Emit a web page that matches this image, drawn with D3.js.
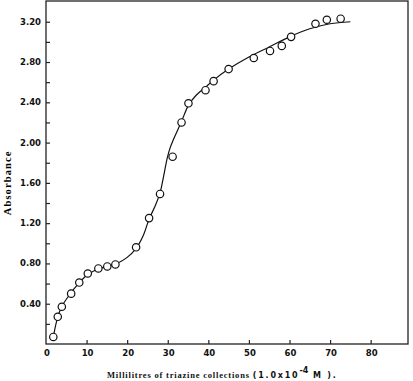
<!DOCTYPE html>
<html>
<head>
<meta charset="utf-8">
<script src="https://cdn.jsdelivr.net/npm/d3@7"></script>
<style>
  body { margin: 0; background: #fff; }
  svg { display: block; }
  .tick-label { font-family: "DejaVu Sans", sans-serif; font-weight: bold; font-size: 8.5px; fill: #111; }
</style>
</head>
<body>
<svg id="drawing_region"></svg>
<script>
// measured points (ml of triazine, absorbance)
const pointsX = [1.8, 2.9, 3.9, 6.2, 8.2, 10.3, 12.9, 15.1, 17.1, 22.2, 25.4, 28.1, 31.2, 33.4, 35.1, 39.3, 41.3, 45.0, 51.2, 55.2, 58.1, 60.4, 66.4, 69.2, 72.6];
const pointsY = [0.07, 0.27, 0.37, 0.50, 0.61, 0.70, 0.75, 0.77, 0.79, 0.96, 1.25, 1.49, 1.86, 2.20, 2.39, 2.52, 2.61, 2.73, 2.84, 2.91, 2.96, 3.05, 3.18, 3.22, 3.23];

// hand drawn fitted curve
const curveX = [1.8, 2.9, 4.0, 6.0, 8.0, 10.0, 12.5, 15.0, 17.5, 20.0, 22.2, 24.0, 25.4, 27.0, 28.1, 29.0, 29.9, 30.6, 31.4, 32.4, 33.4, 35.1, 37.0, 39.3, 41.3, 45.0, 50.0, 55.0, 60.0, 65.0, 70.0, 75.0];
const curveY = [0.07, 0.27, 0.38, 0.50, 0.60, 0.68, 0.74, 0.77, 0.80, 0.86, 0.95, 1.08, 1.24, 1.38, 1.50, 1.67, 1.85, 1.95, 2.03, 2.12, 2.21, 2.37, 2.47, 2.55, 2.62, 2.73, 2.85, 2.95, 3.05, 3.13, 3.18, 3.20];

const xTicks = [0, 10, 20, 30, 40, 50, 60, 70, 80];
const yTicks = [0.40, 0.80, 1.20, 1.60, 2.00, 2.40, 2.80, 3.20];
const yMinorTicks = [0.2, 0.4, 0.6, 0.8, 1.0, 1.2, 1.4, 1.6, 1.8, 2.0, 2.2, 2.4, 2.6, 2.8, 3.0, 3.2];

const width = 413, height = 381;
const margin = {top: 1, right: 5, bottom: 37, left: 46};

const svg = d3.select('#drawing_region')
    .attr('width', width)
    .attr('height', height);

const innerW = width - margin.left - margin.right;
const innerH = height - margin.top - margin.bottom;

const xscale = d3.scaleLinear()
    .domain([0, 89.2])
    .range([margin.left, margin.left + innerW]);

const yscale = d3.scaleLinear()
    .domain([0, 3.406])
    .range([margin.top + innerH, margin.top]);

// frame
svg.append('rect')
    .attr('x', margin.left)
    .attr('y', margin.top)
    .attr('width', innerW)
    .attr('height', innerH)
    .attr('fill', 'none')
    .attr('stroke', '#222')
    .attr('stroke-width', 1.3);

// x axis (ticks point inward)
const xaxis = d3.axisTop(xscale)
    .tickValues(xTicks.slice(1))
    .tickSize(4)
    .tickFormat('');
svg.append('g')
    .attr('transform', `translate(0, ${margin.top + innerH})`)
    .call(xaxis)
    .call(g => g.select('.domain').remove())
    .call(g => g.selectAll('line').attr('stroke', '#222').attr('stroke-width', 1.2));

svg.append('g')
    .selectAll('text')
    .data(xTicks)
    .join('text')
    .attr('class', 'tick-label')
    .attr('x', d => xscale(d) + 1)
    .attr('y', margin.top + innerH + 12)
    .attr('text-anchor', 'middle')
    .text(d => d);

// y axis (ticks point inward)
const yaxis = d3.axisRight(yscale)
    .tickValues(yMinorTicks)
    .tickSize(4)
    .tickFormat('');
svg.append('g')
    .attr('transform', `translate(${margin.left}, 0)`)
    .call(yaxis)
    .call(g => g.select('.domain').remove())
    .call(g => g.selectAll('line').attr('stroke', '#222').attr('stroke-width', 1.2));

svg.append('g')
    .selectAll('text')
    .data(yTicks)
    .join('text')
    .attr('class', 'tick-label')
    .attr('x', margin.left - 5)
    .attr('y', d => yscale(d) + 3)
    .attr('text-anchor', 'end')
    .text(d => d.toFixed(2));

// fitted curve
const line = d3.line()
    .x(d => xscale(d[0]))
    .y(d => yscale(d[1]))
    .curve(d3.curveCatmullRom.alpha(0.5));

svg.append('path')
    .datum(d3.zip(curveX, curveY))
    .attr('d', line)
    .attr('fill', 'none')
    .attr('stroke', '#111')
    .attr('stroke-width', 1.2);

// data points
svg.append('g')
    .selectAll('circle')
    .data(d3.zip(pointsX, pointsY))
    .join('circle')
    .attr('cx', d => xscale(d[0]))
    .attr('cy', d => yscale(d[1]))
    .attr('r', 3.7)
    .attr('fill', '#fff')
    .attr('stroke', '#111')
    .attr('stroke-width', 1.2);

// axis titles
svg.append('text')
    .attr('transform', `translate(11, ${yscale(1.6)}) rotate(-90)`)
    .attr('text-anchor', 'middle')
    .attr('font-family', '"Liberation Serif", serif')
    .attr('font-weight', 'bold')
    .attr('font-size', 10.5)
    .attr('letter-spacing', 1.1)
    .text('Absorbance');

const xlabel = svg.append('text')
    .attr('x', 107)
    .attr('y', 378)
    .attr('font-weight', 'bold')
    .attr('fill', '#111');

xlabel.append('tspan')
    .attr('font-family', '"Liberation Serif", serif')
    .attr('font-size', 8.5)
    .attr('letter-spacing', 0.8)
    .text('Millilitres of triazine collections ');

xlabel.append('tspan')
    .attr('font-family', '"DejaVu Sans", sans-serif')
    .attr('font-size', 8)
    .attr('letter-spacing', 1.8)
    .text('(1.0x10');

xlabel.append('tspan')
    .attr('font-family', '"DejaVu Sans", sans-serif')
    .attr('font-size', 8)
    .attr('dy', -5)
    .text('-4');

xlabel.append('tspan')
    .attr('font-family', '"DejaVu Sans", sans-serif')
    .attr('font-size', 8)
    .attr('dy', 5)
    .attr('letter-spacing', 1.8)
    .text(' M ).');
</script>
</body>
</html>
